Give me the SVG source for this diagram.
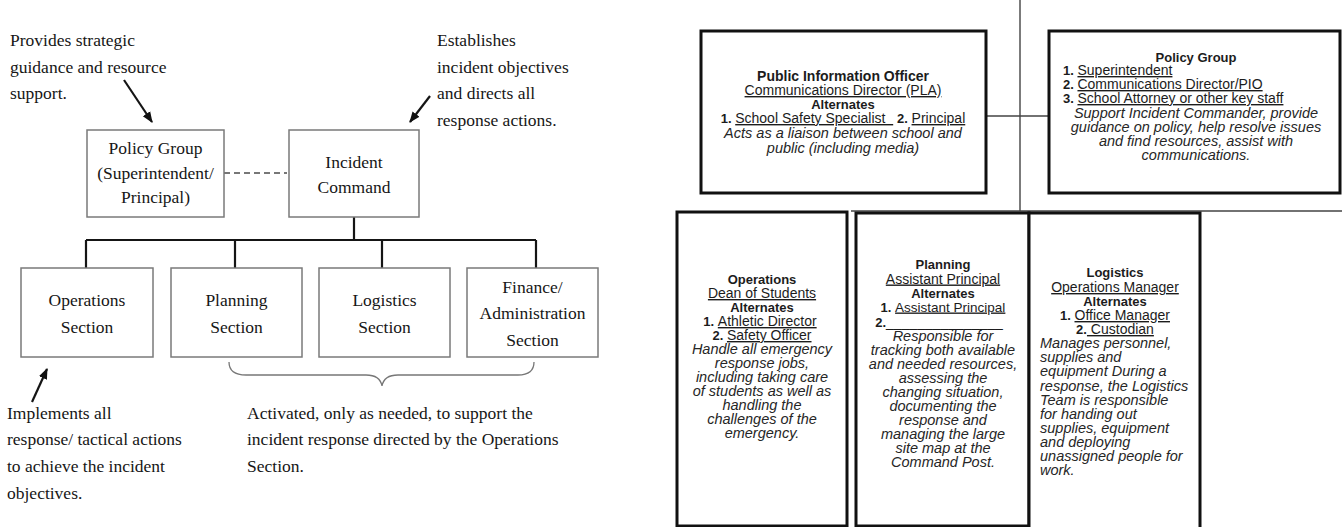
<svg xmlns="http://www.w3.org/2000/svg" width="1342" height="527" viewBox="0 0 1342 527">
<defs>
<style>
.s{font-family:"Liberation Serif","Times New Roman",serif;font-size:17.5px;fill:#161616}
.m{text-anchor:middle}
.lb{fill:#fff;stroke:#7a7a7a;stroke-width:1.5}
.lc{stroke:#151515;stroke-width:2.2;fill:none}
.rb{fill:#fff;stroke:#111;stroke-width:3}
.rc{stroke:#444;stroke-width:1.4;fill:none}
.t{font-family:"Liberation Sans",Arial,sans-serif;fill:#1c1c1c}
.b{font-weight:bold;font-size:13px}
.r{font-size:14px}
.u{text-decoration:underline}
.i{font-style:italic;font-size:14.5px;fill:#262626}
</style>
<marker id="ah" viewBox="0 0 10 10" refX="9" refY="5" markerWidth="11" markerHeight="11" markerUnits="userSpaceOnUse" orient="auto"><path d="M0,1 L10,5 L0,9 Z" fill="#111"/></marker>
</defs>
<rect width="1342" height="527" fill="#fff"/>

<!-- LEFT DIAGRAM -->
<g id="left-connectors">
<line x1="224" y1="173" x2="287" y2="173" stroke="#777" stroke-width="2" stroke-dasharray="6,4"/>
<path class="lc" d="M354,217 V240 M86,240 H536 M86,240 V268 M235,240 V268 M382,240 V268 M536,240 V268"/>
<line class="lc" x1="124" y1="80" x2="152" y2="122" marker-end="url(#ah)"/>
<line class="lc" x1="430" y1="96" x2="410" y2="122" marker-end="url(#ah)"/>
<line class="lc" x1="32" y1="402" x2="47" y2="369" marker-end="url(#ah)"/>
<path d="M229,362 Q229,375 246,375 L366,375 Q380,375 382,386 Q384,375 398,375 L518,375 Q534,375 534,362" fill="none" stroke="#777" stroke-width="1.3"/>
</g>

<g id="note-policy">
<text class="s" x="10" y="46">Provides strategic</text>
<text class="s" x="10" y="73">guidance and resource</text>
<text class="s" x="10" y="99">support.</text>
</g>
<g id="note-command">
<text class="s" x="437" y="46">Establishes</text>
<text class="s" x="437" y="73">incident objectives</text>
<text class="s" x="437" y="99">and directs all</text>
<text class="s" x="437" y="126">response actions.</text>
</g>
<g id="l-policy">
<rect class="lb" x="87" y="130" width="137" height="87"/>
<text class="s m" x="155.5" y="154">Policy Group</text>
<text class="s m" x="155.5" y="179">(Superintendent/</text>
<text class="s m" x="155.5" y="203">Principal)</text>
</g>
<g id="l-command">
<rect class="lb" x="289" y="130" width="130" height="87"/>
<text class="s m" x="354" y="168">Incident</text>
<text class="s m" x="354" y="193">Command</text>
</g>
<g id="l-operations">
<rect class="lb" x="21" y="268" width="132" height="89"/>
<text class="s m" x="87" y="306">Operations</text>
<text class="s m" x="87" y="333">Section</text>
</g>
<g id="l-planning">
<rect class="lb" x="171" y="268" width="131" height="89"/>
<text class="s m" x="236.5" y="306">Planning</text>
<text class="s m" x="236.5" y="333">Section</text>
</g>
<g id="l-logistics">
<rect class="lb" x="319" y="268" width="131" height="89"/>
<text class="s m" x="384.5" y="306">Logistics</text>
<text class="s m" x="384.5" y="333">Section</text>
</g>
<g id="l-finance">
<rect class="lb" x="467" y="268" width="131" height="89"/>
<text class="s m" x="532.5" y="293">Finance/</text>
<text class="s m" x="532.5" y="319">Administration</text>
<text class="s m" x="532.5" y="346">Section</text>
</g>
<g id="note-operations">
<text class="s" x="7" y="419">Implements all</text>
<text class="s" x="7" y="445">response/ tactical actions</text>
<text class="s" x="7" y="472">to achieve the incident</text>
<text class="s" x="7" y="499">objectives.</text>
</g>
<g id="note-sections">
<text class="s" x="247" y="419">Activated, only as needed,  to support the</text>
<text class="s" x="247" y="445">incident response directed by the Operations</text>
<text class="s" x="247" y="472">Section.</text>
</g>

<!-- RIGHT DIAGRAM -->
<g id="right-connectors">
<path class="rc" d="M1020,0 V211 M851,211 H1342 M986,116 H1049"/>
<path d="M769,212 V236 M947,213 V236 M1128,213 V236" stroke="#555" stroke-width="2" fill="none"/>
</g>

<g id="r-pio">
<rect class="rb" x="701" y="31" width="285" height="162"/>
<text class="t b m" x="843" y="81" style="font-size:14px">Public Information Officer</text>
<text class="t r u m" x="843" y="95">Communications Director (PLA)</text>
<text class="t b m" x="843" y="109">Alternates</text>
<text class="t m" x="843" y="123"><tspan class="b">1. </tspan><tspan class="r u">School Safety Specialist&#160;&#160;</tspan><tspan class="r"> </tspan><tspan class="b">2. </tspan><tspan class="r u">Principal</tspan></text>
<text class="t i m" x="843" y="138">Acts as a liaison between school and</text>
<text class="t i m" x="843" y="153">public (including media)</text>
</g>

<g id="r-policy">
<rect class="rb" x="1049" y="31" width="291" height="162"/>
<text class="t b m" x="1196" y="62">Policy Group</text>
<text class="t" x="1063" y="75"><tspan class="b">1. </tspan><tspan class="r u">Superintendent</tspan></text>
<text class="t" x="1063" y="89"><tspan class="b">2. </tspan><tspan class="r u">Communications Director/PIO</tspan></text>
<text class="t" x="1063" y="103"><tspan class="b">3. </tspan><tspan class="r u">School Attorney or other key staff</tspan></text>
<text class="t i m" x="1196" y="118">Support Incident Commander, provide</text>
<text class="t i m" x="1196" y="132">guidance on policy, help resolve issues</text>
<text class="t i m" x="1196" y="146">and find resources, assist with</text>
<text class="t i m" x="1196" y="160">communications.</text>
</g>

<g id="r-operations">
<rect class="rb" x="677" y="212" width="170" height="314"/>
<text class="t b m" x="762" y="284">Operations</text>
<text class="t r u m" x="762" y="298">Dean of Students</text>
<text class="t b m" x="762" y="312">Alternates</text>
<text class="t m" x="760" y="326"><tspan class="b">1.  </tspan><tspan class="r u">Athletic Director</tspan></text>
<text class="t m" x="762" y="340"><tspan class="b">2.  </tspan><tspan class="r u">Safety Officer</tspan></text>
<text class="t i m" x="762" y="354">Handle all emergency</text>
<text class="t i m" x="762" y="368">response jobs,</text>
<text class="t i m" x="762" y="382">including taking care</text>
<text class="t i m" x="762" y="396">of students as well as</text>
<text class="t i m" x="762" y="410">handling the</text>
<text class="t i m" x="762" y="424">challenges of the</text>
<text class="t i m" x="762" y="438">emergency.</text>
</g>

<g id="r-planning">
<rect class="rb" x="856" y="213" width="173" height="313"/>
<text class="t b m" x="943" y="269">Planning</text>
<text class="t r u m" x="943" y="283.5">Assistant Principal</text>
<text class="t b m" x="943" y="297.5">Alternates</text>
<text class="t m" x="943" y="311.5"><tspan class="b">1. </tspan><tspan class="r u" style="font-size:13.5px">Assistant Principal</tspan></text>
<text class="t m" x="939" y="327"><tspan class="b">2.</tspan><tspan class="r">_______________</tspan></text>
<text class="t i m" x="943" y="341">Responsible for</text>
<text class="t i m" x="943" y="355">tracking both available</text>
<text class="t i m" x="943" y="369">and needed resources,</text>
<text class="t i m" x="943" y="383">assessing the</text>
<text class="t i m" x="943" y="397">changing situation,</text>
<text class="t i m" x="943" y="411">documenting the</text>
<text class="t i m" x="943" y="425">response and</text>
<text class="t i m" x="943" y="439">managing the large</text>
<text class="t i m" x="943" y="453">site map at the</text>
<text class="t i m" x="943" y="467">Command Post.</text>
</g>

<g id="r-logistics">
<rect class="rb" x="1029" y="213" width="171" height="330"/>
<text class="t b m" x="1115" y="277">Logistics</text>
<text class="t r u m" x="1115" y="292">Operations Manager</text>
<text class="t b m" x="1115" y="306">Alternates</text>
<text class="t m" x="1115" y="320"><tspan class="b">1. </tspan><tspan class="r u">Office Manager</tspan></text>
<text class="t m" x="1115" y="334"><tspan class="b">2.</tspan><tspan class="r u">&#160;Custodian</tspan></text>
<text class="t i" x="1040" y="348">Manages personnel,</text>
<text class="t i" x="1040" y="362">supplies and</text>
<text class="t i" x="1040" y="376">equipment During a</text>
<text class="t i" x="1040" y="391">response, the Logistics</text>
<text class="t i" x="1040" y="405">Team is responsible</text>
<text class="t i" x="1040" y="419">for handing out</text>
<text class="t i" x="1040" y="433">supplies, equipment</text>
<text class="t i" x="1040" y="447">and deploying</text>
<text class="t i" x="1040" y="461">unassigned people for</text>
<text class="t i" x="1040" y="475">work.</text>
</g>
</svg>
